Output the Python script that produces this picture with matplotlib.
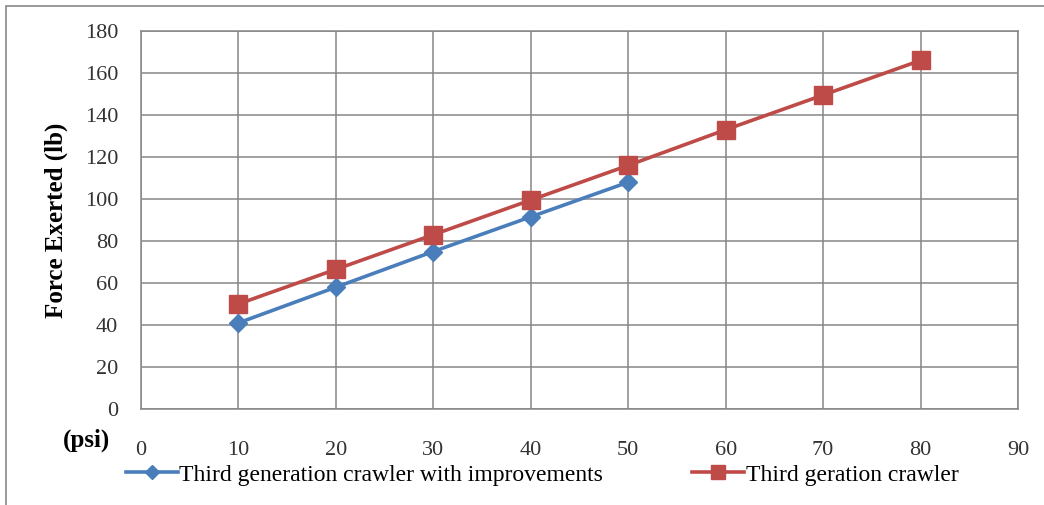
import matplotlib
matplotlib.use("Agg")
import matplotlib.pyplot as plt
from matplotlib.patches import Rectangle

# pressure (psi) vs force exerted (lb)
psi_improved = [10, 20, 30, 40, 50]
force_improved = [41, 58, 75, 91.5, 108]
psi_third = [10, 20, 30, 40, 50, 60, 70, 80]
force_third = [50, 66.5, 83, 99.5, 116, 133, 149.5, 166]

xticks = list(range(0, 91, 10))
yticks = list(range(0, 181, 20))

plt.rcParams['font.family'] = 'Liberation Serif'

fig = plt.figure(figsize=(10.44, 5.05), dpi=100)
ax = fig.add_axes([141 / 1044, 1 - 409 / 505, (1018 - 141) / 1044, (409 - 31) / 505])

ax.plot(psi_improved, force_improved, color='#4a7ebb', lw=2.6, marker='D',
        ms=9, label='Third generation crawler with improvements', zorder=3)
ax.plot(psi_third, force_third, color='#be4b48', lw=2.6, marker='s',
        ms=13, label='Third geration crawler', zorder=3)

ax.set_xlim(0, 90)
ax.set_ylim(0, 180)
ax.set_xticks(xticks)
ax.set_yticks(yticks)
ax.grid(True, color='#868686', lw=1.1)
ax.set_axisbelow(True)
for s in ax.spines.values():
    s.set_color('#868686')
    s.set_linewidth(1.1)
ax.tick_params(length=0, labelsize=16, colors='#333333')
ax.tick_params(axis='x', pad=23)
ax.tick_params(axis='y', pad=16.5)

ax.set_ylabel('Force Exerted (lb)', fontsize=18, fontweight='bold', labelpad=12)
fig.text(86 / 1044, 1 - 440 / 505, '(psi)', fontsize=18, fontweight='bold',
         ha='center', va='center')

fig.legend(loc='center', bbox_to_anchor=(542 / 1044, 1 - 475 / 505), ncol=2,
           frameon=False, fontsize=17, handlelength=2.2, handletextpad=0.05,
           columnspacing=3.8, markerscale=0.8)

# outer chart frame
fig.patches.append(Rectangle((6 / 1044, -0.1), 1.2, 1 - 6 / 505 + 0.1,
                             transform=fig.transFigure, fill=False,
                             edgecolor='#888888', lw=1.2))

fig.savefig('out.png', dpi=100)
